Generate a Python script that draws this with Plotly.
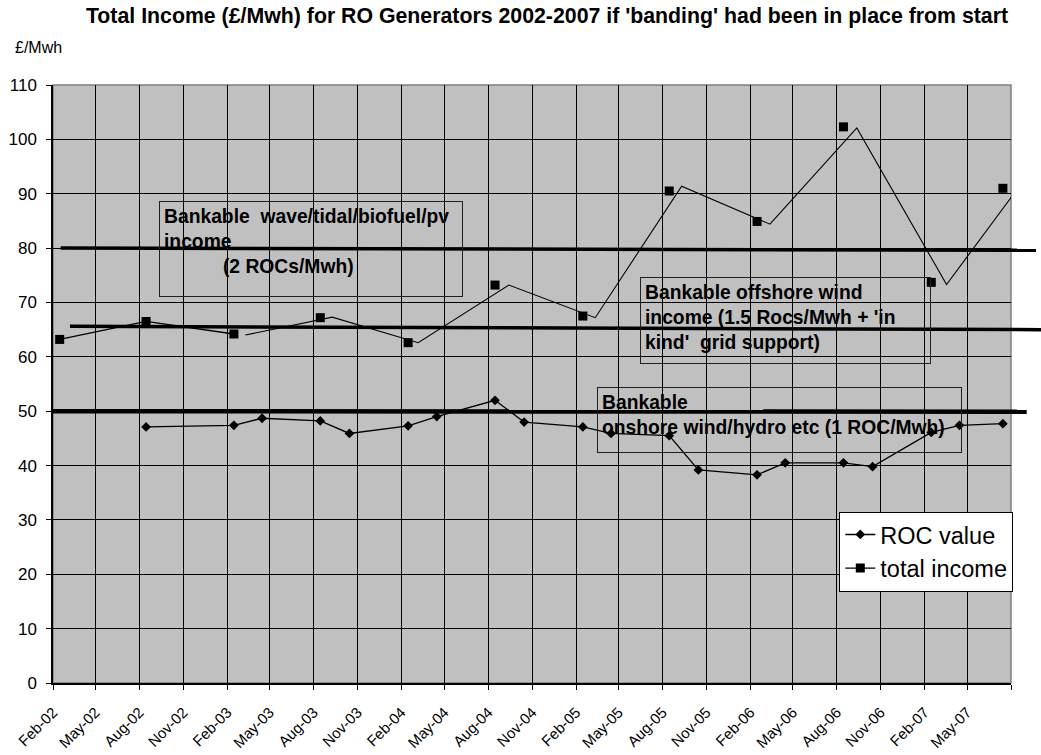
import plotly.graph_objects as go

# ---------------- data ----------------
roc_dates = ["2002-08-15", "2003-02-15", "2003-04-15", "2003-08-15", "2003-10-15",
             "2004-02-15", "2004-04-15", "2004-08-15", "2004-10-15", "2005-02-15",
             "2005-04-15", "2005-08-15", "2005-10-15", "2006-02-15", "2006-04-15",
             "2006-08-15", "2006-10-15", "2007-02-15", "2007-04-15", "2007-07-15"]
roc_values = [47.1, 47.4, 48.7, 48.2, 45.9, 47.3, 49.0, 52.0, 48.0, 47.1,
              45.9, 45.5, 39.2, 38.3, 40.5, 40.5, 39.8, 46.1, 47.4, 47.7]

income_dates = ["2002-02-15", "2002-08-15", "2003-02-15", "2003-08-15", "2004-02-15",
                "2004-08-15", "2005-02-15", "2005-08-15", "2006-02-15", "2006-08-15",
                "2007-02-15", "2007-07-15"]
income_values = [63.2, 66.5, 64.2, 67.2, 62.6, 73.2, 67.5, 90.5, 84.9, 102.3, 73.7, 91.0]

# unmarked income line (drawn offset from the markers in the original)
income_line_dates = ["2003-03-11", "2003-09-09", "2004-03-07", "2004-09-13", "2005-03-13",
                     "2005-09-10", "2006-03-14", "2006-09-12", "2007-03-19", "2007-08-19"]
income_line_values = [64.0, 67.3, 62.6, 73.2, 67.2, 91.4, 84.4, 102.1, 73.3, 91.4]

# banding levels (left end, right end)
band_left = [80.0, 65.6, 50.0]
band_right = [79.6, 65.0, 49.9]

tick_dates = ["2002-02-01", "2002-05-01", "2002-08-01", "2002-11-01", "2003-02-01",
              "2003-05-01", "2003-08-01", "2003-11-01", "2004-02-01", "2004-05-01",
              "2004-08-01", "2004-11-01", "2005-02-01", "2005-05-01", "2005-08-01",
              "2005-11-01", "2006-02-01", "2006-05-01", "2006-08-01", "2006-11-01",
              "2007-02-01", "2007-05-01", "2007-08-01"]
tick_labels = ["Feb-02", "May-02", "Aug-02", "Nov-02", "Feb-03", "May-03", "Aug-03",
               "Nov-03", "Feb-04", "May-04", "Aug-04", "Nov-04", "Feb-05", "May-05",
               "Aug-05", "Nov-05", "Feb-06", "May-06", "Aug-06", "Nov-06", "Feb-07",
               "May-07", ""]

title_text = "Total Income (£/Mwh) for RO Generators 2002-2007 if 'banding' had been in place from start"
y_title = "£/Mwh"
box_texts = [
    "Bankable\u00a0 wave/tidal/biofuel/pv<br>income<br>" + "\u00a0" * 11 + "(2 ROCs/Mwh)",
    "Bankable offshore wind<br>income (1.5 Rocs/Mwh + 'in<br>kind'\u00a0 grid support)",
    "Bankable<br>onshore wind/hydro etc (1 ROC/Mwh)",
]

# ---------------- layout geometry ----------------
W, H = 1041, 755
ML, MR, MT, MB = 53, 30, 85, 72
PW, PH = W - ML - MR, H - MT - MB
YMAX = 110
FONT = "Liberation Sans, Arial, sans-serif"


def px_x(px):
    return (px - ML) / PW


def px_y(py):
    return (H - MB - py) / PH


fig = go.Figure()

fig.add_trace(go.Scatter(
    x=roc_dates, y=roc_values, name="ROC value", mode="lines+markers",
    line=dict(color="black", width=1.3),
    marker=dict(symbol="diamond", size=7.5, color="black"),
))
fig.add_trace(go.Scatter(
    x=income_dates[:3], y=income_values[:3], name="total income", mode="lines+markers",
    line=dict(color="black", width=1.3),
    marker=dict(symbol="square", size=9, color="black"),
))
fig.add_trace(go.Scatter(
    x=income_dates[3:], y=income_values[3:], mode="markers", showlegend=False,
    marker=dict(symbol="square", size=9, color="black"),
))
fig.add_trace(go.Scatter(
    x=income_line_dates, y=income_line_values, mode="lines", showlegend=False,
    line=dict(color="black", width=1.1),
))

# banding lines (drawing objects that run past the plot area)
band_extent = [(60.7, 1036), (70, 1041), (51.7, 1026.7)]
band_width = [3.5, 3.5, 4.5]
shapes = []
for (x0, x1), yl, yr, lw in zip(band_extent, band_left, band_right, band_width):
    shapes.append(dict(type="line", xref="paper", yref="paper",
                       x0=px_x(x0), x1=px_x(x1), y0=yl / YMAX, y1=yr / YMAX,
                       line=dict(color="black", width=lw), layer="above"))
# plot-area border
shapes.append(dict(type="rect", xref="paper", yref="paper", x0=0, x1=1, y0=0, y1=1,
                   line=dict(color="#808080", width=1.5), layer="below"))

# text boxes: (left, top, right, bottom) in pixels
box_geom = [(159.3, 201, 463.3, 297.3), (640, 277, 931, 364), (597.3, 386.7, 962.7, 452.3)]
annotations = []
for txt, (l, t, r, b) in zip(box_texts, box_geom):
    annotations.append(dict(
        text=txt, xref="paper", yref="paper", x=px_x(l), y=px_y(t),
        xanchor="left", yanchor="top", align="left", valign="top",
        width=(r - l) - 10, height=(b - t) - 10, showarrow=False,
        bordercolor="#202020", borderwidth=1, borderpad=4,
        font=dict(family=FONT, size=19.3, color="black", weight="bold"),
    ))
annotations.append(dict(
    text=y_title, xref="paper", yref="paper", x=px_x(13.3), y=px_y(47.7),
    xanchor="left", yanchor="middle", showarrow=False,
    font=dict(family=FONT, size=16, color="black"),
))

fig.update_layout(
    width=W, height=H,
    margin=dict(l=ML, r=MR, t=MT, b=MB, autoexpand=False),
    paper_bgcolor="white", plot_bgcolor="#C0C0C0",
    font=dict(family=FONT, color="black"),
    title=dict(text=title_text, x=547 / W, xanchor="center", xref="container",
               y=1 - 16 / H, yanchor="middle", yref="container", automargin=False,
               font=dict(family=FONT, size=21.3, color="black", weight="bold")),
    showlegend=True,
    legend=dict(x=px_x(1013.3), xanchor="right", y=px_y(511.7), yanchor="top",
                bgcolor="white", bordercolor="black", borderwidth=1,
                font=dict(family=FONT, size=23.5, color="black"),
                itemwidth=30),
    shapes=shapes,
    annotations=annotations,
)

fig.update_xaxes(
    type="date", range=["2002-02-01", "2007-08-01"], automargin=False,
    tickmode="array", tickvals=tick_dates, ticktext=tick_labels,
    tickangle=-45, ticks="outside", ticklen=5, tickcolor="black",
    tickfont=dict(family=FONT, size=15, color="black"),
    showgrid=True, gridcolor="black", gridwidth=1,
    showline=True, linecolor="black", linewidth=1.5,
    zeroline=False, ticklabelstandoff=8,
)
fig.update_yaxes(
    range=[0, YMAX], dtick=10, tick0=0, automargin=False,
    ticks="outside", ticklen=5, tickcolor="black",
    tickfont=dict(family=FONT, size=17, color="black"),
    showgrid=True, gridcolor="black", gridwidth=1,
    showline=True, linecolor="black", linewidth=1.5,
    zeroline=False, ticklabelstandoff=6,
)

fig.write_html("out.html", config={"displayModeBar": False},
               post_script="document.body.style.margin='0px';")
